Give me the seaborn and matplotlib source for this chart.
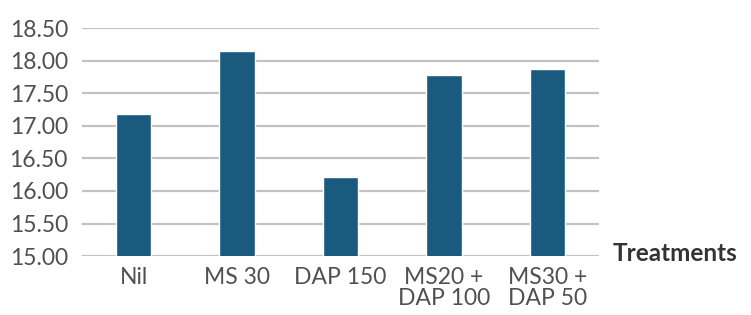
import matplotlib
matplotlib.use("Agg")
import matplotlib.pyplot as plt
import seaborn as sns
import pandas as pd

# ── Data ───────────────────────────────────────────────────────────────────────
treatments = ["Nil", "MS 30", "DAP 150", "MS20 +\nDAP 100", "MS30 +\nDAP 50"]
values = [17.18, 18.15, 16.21, 17.78, 17.87]
y_ticks = [15.0, 15.5, 16.0, 16.5, 17.0, 17.5, 18.0, 18.5]

df = pd.DataFrame({"Treatment": treatments, "Value": values})

# ── Style ──────────────────────────────────────────────────────────────────────
sns.set_theme(style="white")
plt.rcParams["font.family"] = ["Lato", "DejaVu Sans"]

BAR_COLOR = "#1a5a7e"
GRID_COLOR = "#c2c2c6"
TEXT_COLOR = "#505050"

fig = plt.figure(figsize=(7.51, 3.15), dpi=100)
ax = fig.add_axes([0.109, 0.187, 0.689, 0.724])

sns.barplot(data=df, x="Treatment", y="Value", color=BAR_COLOR,
            width=0.34, saturation=1, ax=ax, zorder=3)

ax.set_ylim(15.0, 18.5)
ax.set_yticks(y_ticks)
ax.set_yticklabels([f"{t:.2f}" for t in y_ticks], fontsize=16.5, color=TEXT_COLOR)
ax.tick_params(axis="x", labelsize=16.5, colors=TEXT_COLOR, length=0, pad=8)
ax.tick_params(axis="y", length=0, pad=10)
for lbl in ax.get_xticklabels():
    lbl.set_linespacing(1.0)

ax.yaxis.grid(True, color=GRID_COLOR, linewidth=1.6, zorder=0)
ax.set_axisbelow(True)
for s in ax.spines.values():
    s.set_visible(False)

ax.set_ylabel("")
ax.set_xlabel("Treatments", fontsize=17.5, fontweight="bold", color="#333333",
              ha="left", va="center")
ax.xaxis.set_label_coords(1.025, 0.01)

fig.savefig("out.png", dpi=100)
